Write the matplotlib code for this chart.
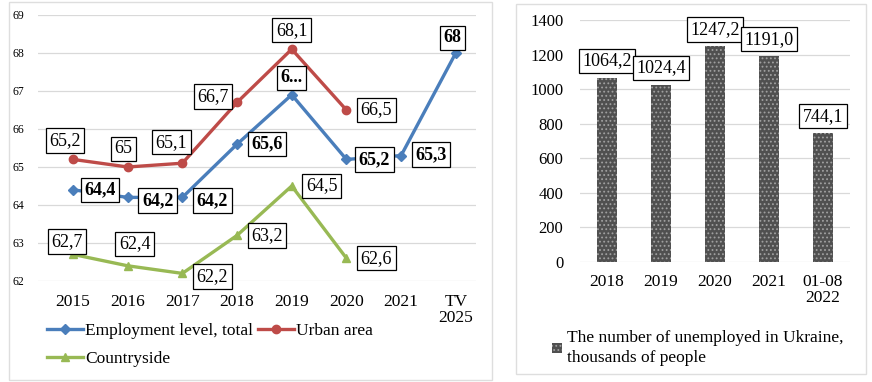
import numpy as np
import matplotlib.pyplot as plt
from matplotlib.patches import Rectangle, Patch

plt.rcParams['font.family'] = ['Liberation Serif', 'DejaVu Serif']
plt.rcParams['hatch.linewidth'] = 0.8

# employment level, %
years = ['2015', '2016', '2017', '2018', '2019', '2020', '2021', 'TV\n2025']
total = [64.4, 64.2, 64.2, 65.6, 66.9, 65.2, 65.3, 68.0]
urban = [65.2, 65.0, 65.1, 66.7, 68.1, 66.5, np.nan, np.nan]
country = [62.7, 62.4, 62.2, 63.2, 64.5, 62.6, np.nan, np.nan]
total_lbl = ['64,4', '64,2', '64,2', '65,6', '6...', '65,2', '65,3', '68']
urban_lbl = ['65,2', '65', '65,1', '66,7', '68,1', '66,5']
country_lbl = ['62,7', '62,4', '62,2', '63,2', '64,5', '62,6']

# unemployed, thousands
periods = ['2018', '2019', '2020', '2021', '01-08\n2022']
unemployed = [1064.2, 1024.4, 1247.2, 1191.0, 744.1]
unemployed_lbl = ['1064,2', '1024,4', '1247,2', '1191,0', '744,1']

W, H = 872, 382
fig = plt.figure(figsize=(W / 100, H / 100), dpi=100)
PT = 72 / 100  # points per pixel

def px(x0, y0, x1, y1):
    # pixel box (top-left origin) -> figure fraction
    return [x0 / W, 1 - y1 / H, (x1 - x0) / W, (y1 - y0) / H]

for (x0, y0, x1, y1) in [(9, 2, 492, 380), (516, 4, 866, 374)]:
    fig.patches.append(Rectangle((x0 / W, 1 - y1 / H), (x1 - x0) / W, (y1 - y0) / H,
                                 transform=fig.transFigure, fill=False,
                                 ec='#dedede', lw=1.0))

box = dict(boxstyle='square,pad=0.2', fc='white', ec='black', lw=0.9)
fs = 12.5     # ticks, legends
fl = 13       # data labels

# ---- left: employment level
ax = fig.add_axes(px(38, 15, 476, 281))
x = np.arange(len(years))
blue, red, green = '#4a7ebb', '#be4b48', '#98b954'
ax.plot(x, total, color=blue, lw=2.4, marker='D', ms=5, label='Employment level, total')
ax.plot(x, urban, color=red, lw=2.4, marker='o', ms=6, label='Urban area')
ax.plot(x, country, color=green, lw=2.4, marker='^', ms=6, label='Countryside')
ax.set_xlim(-0.64, 7.37)
ax.set_ylim(62, 69)
ax.set_yticks(range(62, 70))
ax.set_xticks(x)
ax.set_xticklabels(years, fontsize=fs, va='top', linespacing=1.0)
ax.tick_params(axis='y', labelsize=8.5, length=0, pad=10)
ax.tick_params(axis='x', length=0, pad=9)
for s in ax.spines.values():
    s.set_visible(False)
ax.grid(axis='y', color='#d9d9d9', lw=0.9)
ax.set_axisbelow(True)

# label offsets in pixels (right, up)
tot_off = [(27, 0), (30, -3), (30, -3), (30, 0), (0, 17), (28, 0), (30, 1), (-3, 15)]
urb_off = [(-8, 19), (-4, 18), (-11, 21), (-24, 6), (0, 19), (30, 0)]
cty_off = [(-6, 13), (7, 22), (30, -3), (30, 0), (30, 0), (30, 0)]

def put(vals, labels, offs, **kw):
    for i, (v, t) in enumerate(zip(vals, labels)):
        dx, dy = offs[i]
        ax.annotate(t, (x[i], v), xytext=(dx * PT, dy * PT), textcoords='offset points',
                    ha='center', va='center', fontsize=fl, bbox=box, **kw)

put(total, total_lbl, tot_off, fontweight='bold')
put(urban[:6], urban_lbl, urb_off)
put(country[:6], country_lbl, cty_off)

h, l = ax.get_legend_handles_labels()
fig.legend([h[0], h[2], h[1]], [l[0], l[2], l[1]], ncol=2, loc='upper left',
           bbox_to_anchor=(47 / W, 1 - 323 / H), frameon=False, fontsize=fs,
           handlelength=2.1, handletextpad=0.1, columnspacing=0.25, labelspacing=0.7,
           borderpad=0, borderaxespad=0)

# ---- right: unemployed
bx = fig.add_axes(px(580, 20, 850, 262))
xb = np.arange(len(periods))
bars = bx.bar(xb, unemployed, width=0.37, color='#505050', edgecolor='#a0a0a0',
              hatch='....', lw=0)
bx.set_xlim(-0.5, 4.5)
bx.set_ylim(0, 1400)
bx.set_yticks(range(0, 1401, 200))
bx.set_xticks(xb)
bx.set_xticklabels(periods, fontsize=fs, va='top', linespacing=1.0)
bx.tick_params(axis='y', labelsize=fs - 0.5, length=0, pad=12)
bx.tick_params(axis='x', length=0, pad=9)
for s in bx.spines.values():
    s.set_visible(False)
bx.grid(axis='y', color='#d9d9d9', lw=0.9)
bx.set_axisbelow(True)
for b, t in zip(bars, unemployed_lbl):
    bx.annotate(t, (b.get_x() + b.get_width() / 2, b.get_height()), xytext=(0, 17 * PT),
                textcoords='offset points', ha='center', va='center', fontsize=fl, bbox=box)

leg = fig.legend([Patch(fc='#505050', ec='#a0a0a0', hatch='....', lw=0)],
                 ['The number of unemployed in Ukraine,\nthousands of people'],
                 loc='upper left', bbox_to_anchor=(552 / W, 1 - 330 / H), frameon=False,
                 fontsize=fs, handlelength=0.55, handleheight=0.55, handletextpad=0.3,
                 borderpad=0, borderaxespad=0)
leg.get_texts()[0].set_linespacing(1.35)

fig.savefig('out.png', dpi=100, facecolor='white')
